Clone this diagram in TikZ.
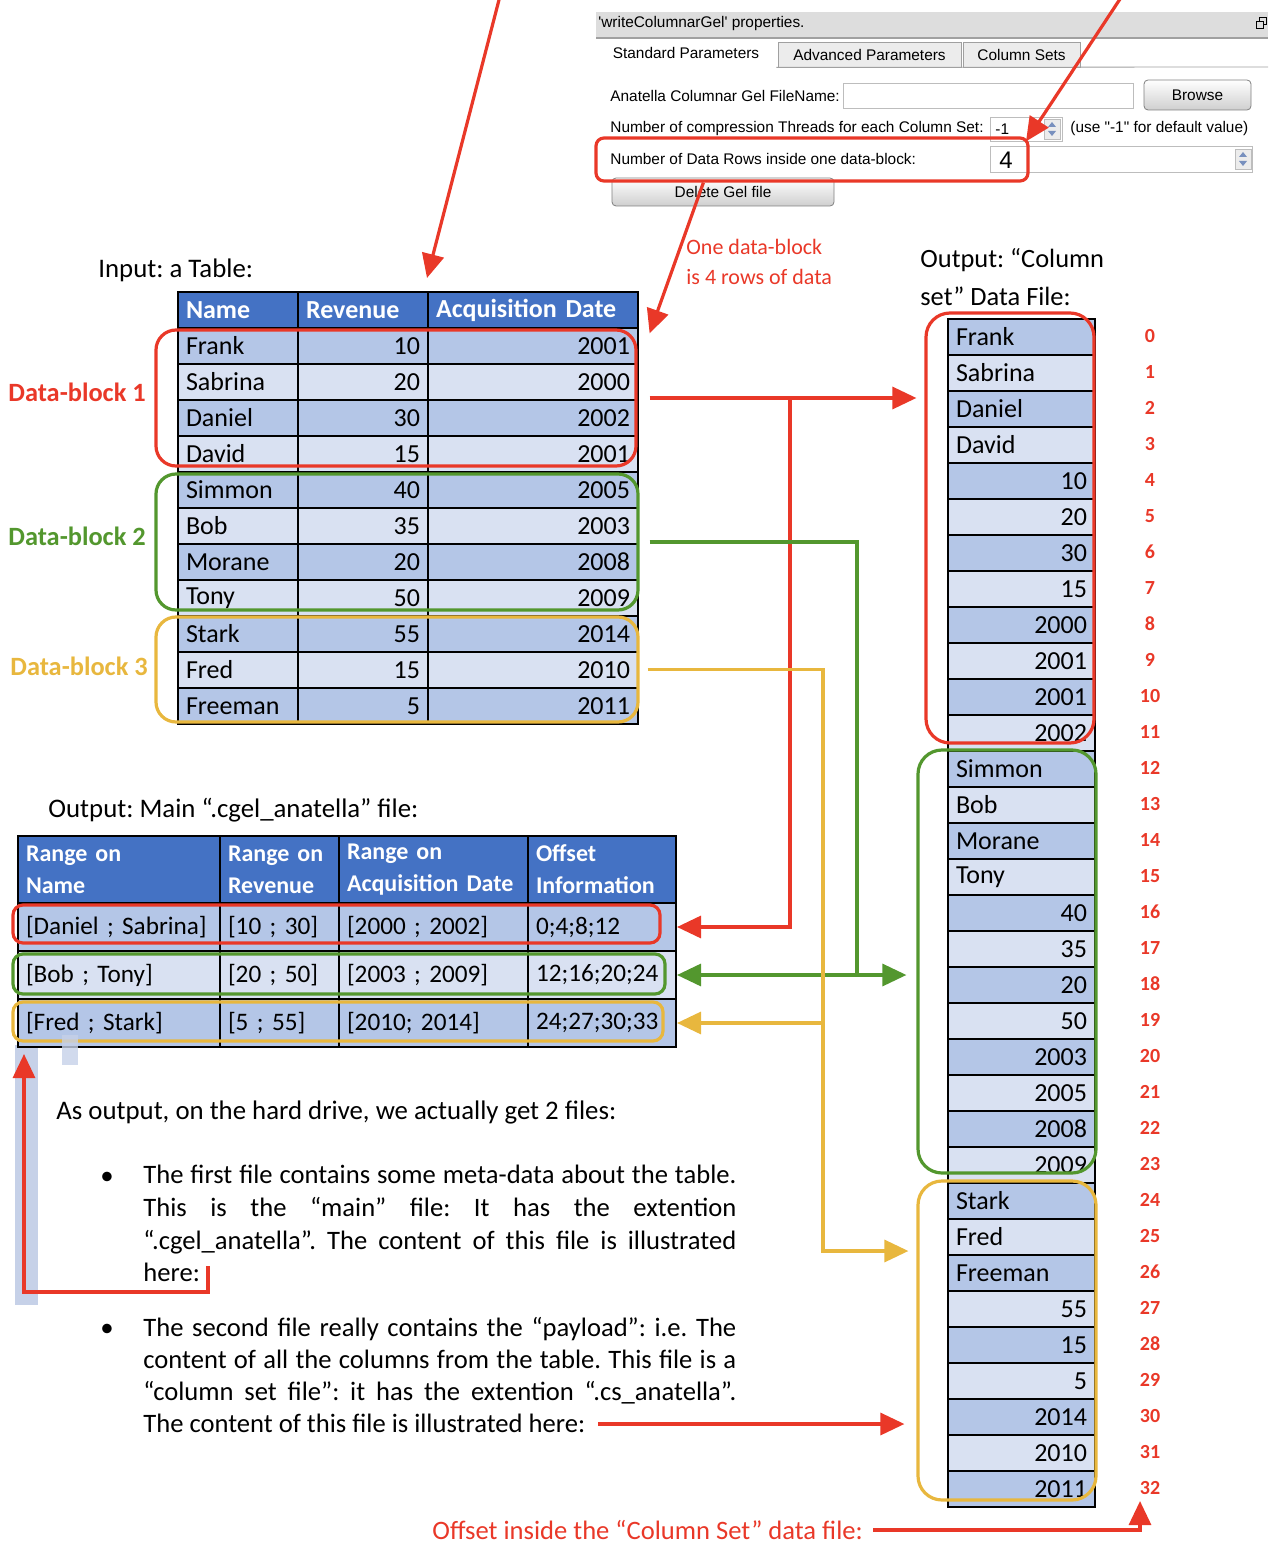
\documentclass[tikz,border=0pt]{standalone}
\usepackage{fontspec}
\setmainfont{Carlito}
\newfontfamily\uifont{Liberation Sans}
\usetikzlibrary{arrows.meta}
\frenchspacing
\definecolor{hdrblue}{RGB}{68,114,196}
\definecolor{rowdark}{RGB}{180,198,231}
\definecolor{rowlight}{RGB}{217,225,242}
\definecolor{blkred}{RGB}{233,56,40}
\definecolor{blkgreen}{RGB}{83,151,46}
\definecolor{blkyellow}{RGB}{232,183,62}
\definecolor{uibar}{RGB}{221,221,221}
\definecolor{uiedge}{RGB}{160,160,160}
\definecolor{uitab}{RGB}{236,236,236}
\definecolor{spinblue}{RGB}{120,144,190}
\definecolor{selblue}{RGB}{198,209,232}
\tikzset{
  txt/.style={anchor=west, inner sep=0pt, font=\fontsize{13.4}{16}\selectfont},
  cell/.style={draw=black, line width=1pt, anchor=north west, inner xsep=4pt, inner ysep=0pt,
               minimum height=18pt, font=\fontsize{13}{15}\selectfont},
  hdr/.style={cell, fill=hdrblue, text=white, font=\fontsize{13}{15}\selectfont\bfseries},
  blkbox/.style={draw, line width=1.6pt, rounded corners=10pt, inner sep=0pt},
  blklab/.style={anchor=west, inner sep=0pt, font=\fontsize{13.2}{15}\selectfont\bfseries},
  idx/.style={text=blkred, inner sep=0pt, font=\fontsize{10}{12}\selectfont\bfseries},
  arr/.style={line width=1.6pt},
  onehead/.style={-{Triangle[length=12pt,width=11pt]}},
  twohead/.style={{Triangle[length=12pt,width=11pt]}-{Triangle[length=12pt,width=11pt]}},
  uitxt/.style={anchor=west, inner sep=0pt, font=\uifont\fontsize{7.7}{9}\selectfont},
  field/.style={draw=uiedge!70, fill=white, inner sep=0pt},
  uibtn/.style={draw=uiedge!80!black, rounded corners=2pt, top color=white, bottom color=uibar!85!gray,
                inner sep=0pt, font=\uifont\fontsize{7.7}{9}\selectfont},
  tab/.style={draw=uiedge, inner sep=0pt, minimum height=12.5pt, font=\uifont\fontsize{7.7}{9}\selectfont},
  spin/.style={draw=uiedge!70, fill=uitab, minimum width=8pt, minimum height=10pt, inner sep=0pt}
}

\begin{document}
\begin{tikzpicture}[x=0.5pt,y=-0.5pt]
  \useasboundingbox (0,0) rectangle (1276,1566);

  % property panel
  \fill[uibar] (596,12) rectangle (1268,37);
  \draw[uiedge, line width=1pt] (596,38) -- (1268,38);
  \node[uitxt] (uititle) at (598,24) {\textquotesingle writeColumnarGel\textquotesingle\ properties.};
  \node[draw=black, line width=0.5pt, minimum size=3.5pt, inner sep=0pt] (uiicon1) at (1263,21) {};
  \node[draw=black, fill=uibar, line width=0.5pt, minimum size=3.5pt, inner sep=0pt] (uiicon2) at (1260,25) {};
  \node[tab, draw=none, fill=white, minimum width=90pt, minimum height=13.5pt] (tabstd) at (686,53.5) {Standard Parameters};
  \node[tab, fill=uitab, minimum width=91.5pt] (tabadv) at (869.5,55) {Advanced Parameters};
  \node[tab, fill=uitab, minimum width=58.5pt] (tabcol) at (1021.5,55) {Column Sets};
  \draw[uiedge] (tabstd.south east) -- (1268,67);
  \node[uitxt] (lblfile) at (610,96) {Anatella Columnar Gel FileName:};
  \node[field, minimum width=145pt, minimum height=12.5pt] (filefld) at (988,95.5) {};
  \node[uibtn, minimum width=53.5pt, minimum height=15pt] (browse) at (1197.5,95) {Browse};
  \node[uitxt] (lblthr) at (610,129) {Number of compression Threads for each Column Set:};
  \node[field, minimum width=36pt, minimum height=12pt] (thrbox) at (1026,129) {};
  \node[uitxt] (thrval) at (995,129) {-1};
  \node[spin] (thrspin) at (1052,129) {};
  \fill[spinblue] ([shift={(-2pt,1pt)}]thrspin.center) -- ++(4pt,0pt) -- ++(-2pt,2.5pt) -- cycle;
  \fill[spinblue] ([shift={(-2pt,-1pt)}]thrspin.center) -- ++(4pt,0pt) -- ++(-2pt,-2.5pt) -- cycle;
  \node[uitxt] (lblhint) at (1070,129) {(use "-1" for default value)};
  \node[uitxt] (lblrows) at (610,159) {Number of Data Rows inside one data-block:};
  \node[field, minimum width=131pt, minimum height=13pt] (rowsfld) at (1121,159) {};
  \node[inner sep=0pt, font=\uifont\fontsize{12}{14}\selectfont] (rowsval) at (1006,160) {4};
  \node[spin] (rowsspin) at (1243,159) {};
  \fill[spinblue] ([shift={(-2pt,1pt)}]rowsspin.center) -- ++(4pt,0pt) -- ++(-2pt,2.5pt) -- cycle;
  \fill[spinblue] ([shift={(-2pt,-1pt)}]rowsspin.center) -- ++(4pt,0pt) -- ++(-2pt,-2.5pt) -- cycle;
  \node[uibtn, minimum width=111pt, minimum height=14pt] (delbtn) at (723,192) {Delete Gel file};
  \node[blkbox, draw=blkred, rounded corners=4pt, minimum width=216pt, minimum height=21.5pt] (rowsbox) at (812,159.5) {};

  % input table
  \node[txt] (inhead) at (98,270) {Input: a Table:};
  \foreach \hd/\xx/\ww [count=\c] in {Name/177/52pt, Revenue/297/57pt, Acquisition Date/427/97pt}
    \node[hdr, text width=\ww, align=left] (in-0-\c) at (\xx,291) {\hd};
  \foreach \nm/\rv/\dt [count=\i] in {Frank/10/2001, Sabrina/20/2000, Daniel/30/2002, David/15/2001,
      Simmon/40/2005, Bob/35/2003, Morane/20/2008, Tony/50/2009, Stark/55/2014, Fred/15/2010, Freeman/5/2011}{
    \ifodd\i \def\rowfill{rowdark}\else\def\rowfill{rowlight}\fi
    \node[cell, fill=\rowfill, text width=52pt, align=left]  (in-\i-1) at (177,{291+36*\i}) {\nm};
    \node[cell, fill=\rowfill, text width=57pt, align=right] (in-\i-2) at (297,{291+36*\i}) {\rv};
    \node[cell, fill=\rowfill, text width=97pt, align=right] (in-\i-3) at (427,{291+36*\i}) {\dt};
  }
  \node[blkbox, draw=blkred, minimum width=240pt, minimum height=68pt] (blk1) at (396,398) {};
  \node[blkbox, draw=blkgreen, minimum width=241pt, minimum height=68pt] (blk2) at (397,542) {};
  \node[blkbox, draw=blkyellow, minimum width=241pt, minimum height=52.5pt] (blk3) at (397,669.5) {};
  \node[blklab, text=blkred] (lab1) at (8,392) {Data-block 1};
  \node[blklab, text=blkgreen] (lab2) at (8,536) {Data-block 2};
  \node[blklab, text=blkyellow] (lab3) at (10,666) {Data-block 3};
  \node[txt, text=blkred, align=left, font=\fontsize{11}{15}\selectfont] (onetxt) at (686,262) {One data-block\\is 4 rows of data};

  % column set file
  \node[txt, align=left, font=\fontsize{13.2}{19}\selectfont] (cshead) at (920,277) {Output: “Column\\set” Data File:};
  \foreach \v/\al [count=\i from 0] in {Frank/left, Sabrina/left, Daniel/left, David/left,
      10/right, 20/right, 30/right, 15/right, 2000/right, 2001/right, 2001/right, 2002/right,
      Simmon/left, Bob/left, Morane/left, Tony/left, 40/right, 35/right, 20/right, 50/right,
      2003/right, 2005/right, 2008/right, 2009/right, Stark/left, Fred/left, Freeman/left,
      55/right, 15/right, 5/right, 2014/right, 2010/right, 2011/right}{
    \ifodd\i \def\rowfill{rowlight}\else\def\rowfill{rowdark}\fi
    \node[cell, fill=\rowfill, text width=65.5pt, align=\al] (cs-\i) at (947,{318+36*\i}) {\v};
    \node[idx] (off-\i) at (1150,{336+36*\i}) {\i};
  }
  \node[blkbox, draw=blkred, rounded corners=12pt, minimum width=84pt, minimum height=215pt] (cs1) at (1010,528) {};
  \node[blkbox, draw=blkgreen, rounded corners=12pt, minimum width=89pt, minimum height=211.5pt] (cs2) at (1007,961.5) {};
  \node[blkbox, draw=blkyellow, rounded corners=12pt, minimum width=89pt, minimum height=159.5pt] (cs3) at (1007,1340.5) {};

  % main file table
  \fill[selblue] (15,1045) rectangle (38,1305);
  \node[txt] (mthead) at (48,810) {Output: Main “.cgel\_anatella” file:};
  \foreach \hd/\xx/\ww [count=\c] in {{Range on\\Name}/17/93pt, {Range on\\Revenue}/219/51.5pt,
      {Range on\\Acquisition Date}/338/86.5pt, {Offset\\Information}/527/66pt}
    \node[hdr, minimum height=33.5pt, text width=\ww, align=left, font=\fontsize{12}{16}\selectfont\bfseries] (mt-0-\c) at (\xx,835) {\hd};
  \foreach \a/\b/\d/\e [count=\i] in {{[Daniel ; Sabrina]}/{[10 ; 30]}/{[2000 ; 2002]}/{0;4;8;12},
      {[Bob ; Tony]}/{[20 ; 50]}/{[2003 ; 2009]}/{12;16;20;24},
      {[Fred ; Stark]}/{[5 ; 55]}/{[2010; 2014]}/{24;27;30;33}}{
    \ifodd\i \def\rowfill{rowdark}\else\def\rowfill{rowlight}\fi
    \node[cell, fill=\rowfill, minimum height=24pt, text width=93pt, align=left, font=\fontsize{12.6}{15}\selectfont]   (mt-\i-1) at (17,{854+48*\i}) {\mbox{\a}};
    \node[cell, fill=\rowfill, minimum height=24pt, text width=51.5pt, align=left, font=\fontsize{12.6}{15}\selectfont] (mt-\i-2) at (219,{854+48*\i}) {\mbox{\b}};
    \node[cell, fill=\rowfill, minimum height=24pt, text width=86.5pt, align=left, font=\fontsize{12.6}{15}\selectfont] (mt-\i-3) at (338,{854+48*\i}) {\mbox{\d}};
    \node[cell, fill=\rowfill, minimum height=24pt, text width=66pt, align=left, font=\fontsize{12.6}{15}\selectfont]   (mt-\i-4) at (527,{854+48*\i}) {\mbox{\e}};
  }
  \node[blkbox, draw=blkred, rounded corners=5pt, minimum width=323.5pt, minimum height=19pt] (mb1) at (336.5,924) {};
  \node[blkbox, draw=blkgreen, rounded corners=5pt, minimum width=326pt, minimum height=20pt] (mb2) at (339,974) {};
  \node[blkbox, draw=blkyellow, rounded corners=5pt, minimum width=325pt, minimum height=19.5pt] (mb3) at (338,1021.5) {};
  \fill[selblue, opacity=0.8] (62,1035) rectangle (78,1065);

  % explanation text
  \node[txt] (outtxt) at (56,1112) {As output, on the hard drive, we actually get 2 files:};
  \node[txt] (bul1) at (100,1178) {\textbullet};
  \node[txt] (bul2) at (100,1330) {\textbullet};
  \node[txt, anchor=north west, text width=296.5pt, align=justify, font=\fontsize{13.3}{16.3}\selectfont] (par1) at (143,1165)
    {The first file contains some meta-data about the table.\linebreak This is the “main” file: It has the extention\linebreak “.cgel\_anatella”. The content of this file is illustrated\linebreak here:};
  \node[txt, anchor=north west, text width=296.5pt, align=justify, font=\fontsize{13.3}{16}\selectfont] (par2) at (143,1317)
    {The second file really contains the “payload”: i.e. The\linebreak content of all the columns from the table. This file is a\linebreak “column set file”: it has the extention “.cs\_anatella”.\linebreak The content of this file is illustrated here:};
  \node[txt, text=blkred, font=\fontsize{13.3}{15}\selectfont] (offtxt) at (432,1530) {Offset inside the “Column Set” data file:};

  % connectors
  \coordinate (rbus) at (790,401);
  \coordinate (gbus) at (857,538);
  \coordinate (ybus) at (823,1251);
  \coordinate (topsrc1) at (500,-4);
  \coordinate (topsrc2) at (1122,-4);
  \coordinate (here1) at (208,1266);
  \coordinate (here2) at (598,1424);
  \draw[arr, onehead, color=blkred] (topsrc1) -- ([yshift=6.5pt]in-0-3.north west);
  \draw[arr, onehead, color=blkred] (topsrc2) -- (thrbox.south);
  \draw[arr, onehead, color=blkred] ([xshift=54.5pt]rowsbox.south west) -- ([xshift=6pt,yshift=-2.5pt]blk1.north east);
  \draw[arr, onehead, color=blkred] ([xshift=6pt]blk1.east) -- ([xshift=-4pt]blk1.east -| cs1.west);
  \draw[arr, onehead, color=blkred] (rbus |- blk1.east) -- (rbus |- mt-1-4.east) -- (mt-1-4.east);
  \draw[arr, color=blkgreen] ([xshift=5pt]blk2.east) -| (gbus |- mt-2-4.east);
  \draw[arr, twohead, color=blkgreen] (mt-2-4.east) -- ([xshift=-5pt]mt-2-4.east -| cs2.west);
  \draw[arr, onehead, color=blkyellow] ([xshift=4pt]blk3.east) -| (ybus) -- ([xshift=-4pt]ybus -| cs3.west);
  \draw[arr, onehead, color=blkyellow] (ybus |- mt-3-4.east) -- (mt-3-4.east);
  \draw[arr, onehead, color=blkred] (here1) -- ++(0,26) -| ([xshift=3.5pt,yshift=-3pt]mt-3-1.south west);
  \draw[arr, onehead, color=blkred] (here2) -- ([xshift=-6pt]here2 -| cs3.west);
  \draw[arr, onehead, color=blkred] ([xshift=5pt]offtxt.east) -| ([xshift=-5pt,yshift=-3pt]off-32.south);
\end{tikzpicture}
\end{document}
